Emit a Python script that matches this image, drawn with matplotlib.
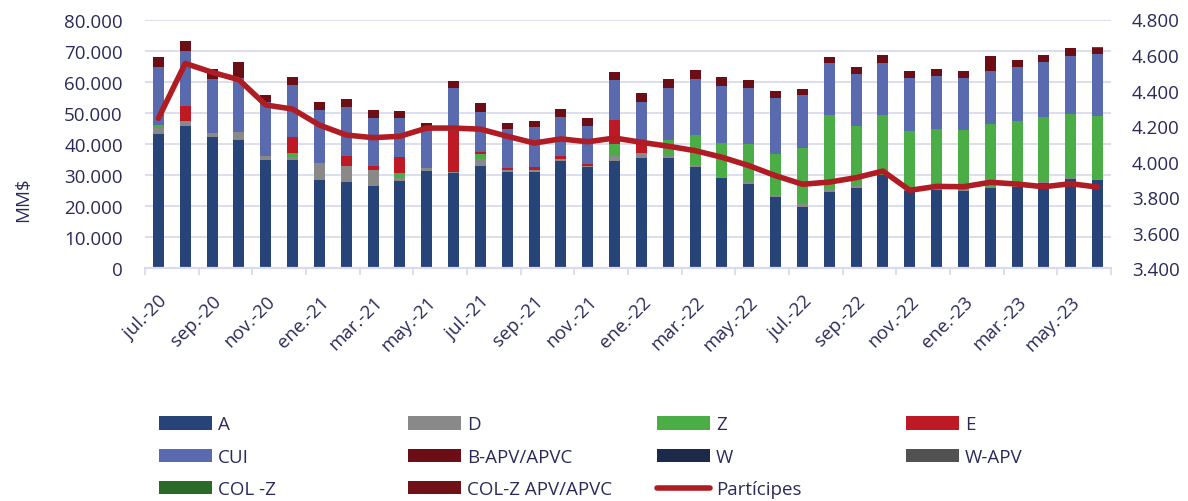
import numpy as np
import matplotlib
matplotlib.use("Agg")
import matplotlib.pyplot as plt
from matplotlib.ticker import FuncFormatter
from matplotlib.patches import Patch
from matplotlib.lines import Line2D

plt.rcParams['font.family'] = ['Open Sans', 'DejaVu Sans']

# months jul-20 .. jun-23
meses = ['ene.', 'feb.', 'mar.', 'abr.', 'may.', 'jun.',
         'jul.', 'ago.', 'sep.', 'oct.', 'nov.', 'dic.']
labels = []
for i in range(36):
    m = (6 + i) % 12
    yy = 20 + (6 + i) // 12
    labels.append(f"{meses[m]}-{yy}")

# stacked series (MM$)
A = [43180, 45850, 42320, 41160, 34920, 34820, 28490, 27850, 26370, 28070,
     31380, 30550, 32990, 31060, 31060, 34600, 32480, 34600, 35370, 35560,
     32670, 28940, 27200, 22830, 19810, 24630, 25920, 30000, 24860, 25180,
     24760, 25920, 26240, 27430, 28810, 28390]
D = [1920, 1420, 1090, 2570, 1190, 970, 5270, 5140, 5240, 960,
     870, 510, 2250, 450, 450, 540, 510, 1510, 1610, 550,
     550, 510, 550, 640, 770, 770, 540, 0, 300, 300,
     300, 300, 300, 300, 300, 300]
Z = [980, 0, 0, 0, 0, 1380, 0, 0, 0, 1610,
     0, 0, 1420, 0, 0, 0, 0, 3860, 0, 5050,
     9550, 10940, 12310, 13280, 18100, 23800, 19300, 19200, 18990, 19410,
     19310, 20080, 20820, 20820, 20410, 20380]
E = [0, 4920, 0, 0, 0, 4950, 0, 3020, 1380, 5050,
     0, 13190, 830, 840, 1160, 870, 450, 7810, 2990, 0,
     0, 0, 0, 0, 0, 0, 0, 0, 0, 0,
     0, 0, 0, 0, 0, 0]
CUI = [18550, 17680, 17460, 17460, 17270, 16920, 17040, 15950, 15340, 12640,
       12540, 13630, 12770, 12440, 12860, 12640, 12410, 12770, 13500, 16810,
       18200, 18230, 17910, 18110, 17040, 16810, 16720, 16810, 16940, 16940,
       16920, 17240, 17370, 17880, 18840, 19740]
B_APV = [3310, 3120, 3120, 5240, 2440, 2570, 2770, 2480, 2470, 2150,
         2030, 2250, 2790, 1830, 1830, 2480, 2380, 2470, 2800, 2800,
         2690, 2790, 2670, 2050, 1840, 2030, 2150, 2580, 2450, 2160,
         2250, 4630, 2150, 2160, 2380, 2120]
W = [0] * 36
W_APV = [0] * 36
COL_Z = [0] * 35 + [300]
COL_Z_APV = [0] * 36

participes = [4244, 4553, 4503, 4461, 4319, 4296, 4206, 4150, 4135, 4143,
              4189, 4189, 4183, 4143, 4105, 4128, 4112, 4133, 4109, 4087,
              4062, 4025, 3978, 3921, 3873, 3885, 3910, 3947, 3839, 3861,
              3859, 3884, 3874, 3859, 3876, 3857]

series = [
    ('A', A, '#264478'),
    ('D', D, '#898989'),
    ('Z', Z, '#4aad46'),
    ('E', E, '#bd1a26'),
    ('CUI', CUI, '#5a6aae'),
    ('B-APV/APVC', B_APV, '#6b0e16'),
    ('W', W, '#1b2a48'),
    ('W-APV', W_APV, '#525252'),
    ('COL -Z', COL_Z, '#2a6b2a'),
    ('COL-Z APV/APVC', COL_Z_APV, '#701017'),
]
line_color = '#b01c24'
text_color = '#2b2a5a'
grid_color = '#d9dbec'

fig = plt.figure(figsize=(11.88, 5.02), dpi=100)
ax = fig.add_axes([145 / 1188, 1 - 269.3 / 502, 966 / 1188, 248.8 / 502])

x = np.arange(len(labels))
bottom = np.zeros(len(labels))
handles = {}
for name, vals, col in series:
    v = np.array(vals, dtype=float)
    ax.bar(x, v, width=0.41, bottom=bottom, color=col, zorder=2)
    bottom += v
    handles[name] = Patch(facecolor=col)

ax.set_xlim(-0.5, 35.5)
ax.set_ylim(0, 80000)
ax.set_yticks(np.arange(0, 80001, 10000))
thousands = FuncFormatter(lambda v, p: f"{v:,.0f}".replace(',', '.'))
ax.yaxis.set_major_formatter(thousands)
ax.grid(axis='y', color=grid_color, linewidth=1.3, zorder=0)
ax.set_axisbelow(True)
for s in ['left', 'right', 'top']:
    ax.spines[s].set_visible(False)
ax.spines['bottom'].set_color(grid_color)
ax.spines['bottom'].set_linewidth(1.6)
ax.tick_params(axis='y', length=0, pad=16, labelsize=13.5, labelcolor=text_color)

ax.set_xticks(x[::2])
ax.set_xticklabels(labels[::2], rotation=45, ha='right', va='top',
                   rotation_mode='anchor')
ax.set_xticks(np.arange(-0.5, 36, 2), minor=True)
ax.tick_params(axis='x', which='major', length=0, pad=17, labelsize=13.5,
               labelcolor=text_color)
ax.tick_params(axis='x', which='minor', length=5, width=1.3, color=grid_color)

ax.set_ylabel('MM$', fontsize=13.5, color=text_color)
ax.yaxis.set_label_coords(-0.117, 0.28)

ax2 = ax.twinx()
ax2.plot(x, participes, color=line_color, linewidth=4, solid_capstyle='round',
         solid_joinstyle='round', zorder=3)
ax2.set_ylim(3400, 4800)
ax2.set_yticks(np.arange(3400, 4801, 200))
ax2.yaxis.set_major_formatter(thousands)
ax2.tick_params(axis='y', length=0, pad=15, labelsize=13.5, labelcolor=text_color)
for s in ['left', 'right', 'top', 'bottom']:
    ax2.spines[s].set_visible(False)

# legend: four columns filled row-wise like the original
part_handle = Line2D([0], [0], color=line_color, linewidth=4, solid_capstyle='round')
columns = [
    ['A', 'CUI', 'COL -Z'],
    ['D', 'B-APV/APVC', 'COL-Z APV/APVC'],
    ['Z', 'W', 'Partícipes'],
    ['E', 'W-APV'],
]
col_x = [159, 408, 657, 906]
for names, cx in zip(columns, col_x):
    hs = [part_handle if n == 'Partícipes' else handles[n] for n in names]
    fig.legend(hs, names, loc='upper left',
               bbox_to_anchor=(cx / 1188, 1 - 416.5 / 502),
               frameon=False, fontsize=13.5, labelcolor=text_color,
               handlelength=2.8, handleheight=0.7, handletextpad=0.35,
               labelspacing=0.77, borderpad=0, borderaxespad=0)

fig.savefig('out.png', dpi=100)
